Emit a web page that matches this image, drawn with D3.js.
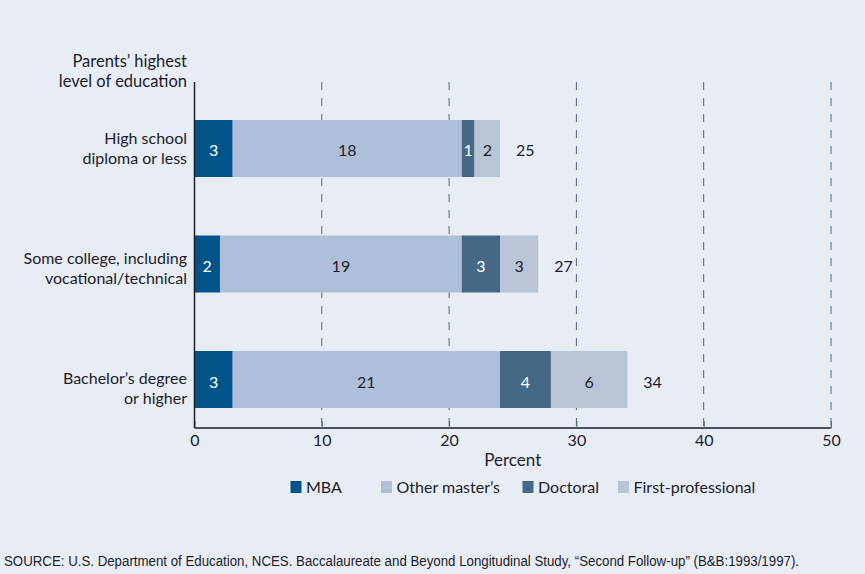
<!DOCTYPE html>
<html>
<head>
<meta charset="utf-8">
<script src="https://cdn.jsdelivr.net/npm/d3@7"></script>
<style>
  body { margin: 0; background: #e8ecf4; }
  svg { display: block; font-family: Lato, "Open Sans", sans-serif; }
</style>
</head>
<body>
<div id="chart"></div>
<script>
// kategorie (wiersze wykresu)
var categories = [
	["High school", "diploma or less"],
	["Some college, including", "vocational/technical"],
	["Bachelor\u2019s degree", "or higher"]
];
// serie
var seriesNames = ["MBA", "Other master\u2019s", "Doctoral", "First-professional"];
var mba = [3, 2, 3];
var otherMasters = [18, 19, 21];
var doctoral = [1, 3, 4];
var firstProf = [2, 3, 6];
var totals = [25, 27, 34];
var xTicks = [0, 10, 20, 30, 40, 50];

var colors = ["#00548a", "#aebfd9", "#456886", "#b9c5d6"];
var textColors = ["#ffffff", "#1d1d2b", "#ffffff", "#1d1d2b"];

var width = 865, height = 574;
var svg = d3.select("#chart").append("svg")
	.attr("width", width)
	.attr("height", height);

svg.append("rect").attr("width", width).attr("height", height).attr("fill", "#e8ecf4");

var xScale = d3.scaleLinear().domain([0, 50]).range([194.5, 831]);
var yScale = d3.scaleBand().domain(d3.range(categories.length))
	.range([120, 408]).paddingInner(0.5065).paddingOuter(0);
// pozycje etykiet kategorii (pierwsza linia)
var labelScale = d3.scalePoint().domain(d3.range(categories.length)).range([143.5, 383.5]);

// linie siatki (przerywane)
svg.selectAll(".grid")
	.data(xTicks.slice(1))
	.enter()
	.append("line")
	.attr("x1", function (d) { return xScale(d); })
	.attr("x2", function (d) { return xScale(d); })
	.attr("y1", 82)
	.attr("y2", 428)
	.style("stroke", "#4a6b8a")
	.style("stroke-width", 1)
	.style("stroke-dasharray", "8,8");

// słupki skumulowane
var series = [mba, otherMasters, doctoral, firstProf];
var rows = categories.map(function (c, i) {
	var x0 = 0;
	return series.map(function (s, k) {
		var seg = { row: i, k: k, v: s[i], x0: x0, x1: x0 + s[i] };
		x0 += s[i];
		return seg;
	});
});
var segs = [].concat.apply([], rows);

svg.selectAll(".seg")
	.data(segs)
	.enter()
	.append("rect")
	.attr("x", function (d) { return xScale(d.x0); })
	.attr("width", function (d) { return xScale(d.x1) - xScale(d.x0); })
	.attr("y", function (d) { return yScale(d.row); })
	.attr("height", yScale.bandwidth())
	.style("fill", function (d) { return colors[d.k]; });

svg.selectAll(".seglabel")
	.data(segs)
	.enter()
	.append("text")
	.attr("x", function (d) { return (xScale(d.x0) + xScale(d.x1)) / 2; })
	.attr("y", function (d) { return yScale(d.row) + yScale.bandwidth() / 2 + 8; })
	.attr("text-anchor", "middle")
	.style("font-size", "16px")
	.style("fill", function (d) { return textColors[d.k]; })
	.text(function (d) { return d.v; });

// sumy
svg.selectAll(".total")
	.data(totals)
	.enter()
	.append("text")
	.attr("x", function (d, i) { return xScale(rows[i][3].x1) + 16; })
	.attr("y", function (d, i) { return yScale(i) + yScale.bandwidth() / 2 + 8; })
	.style("font-size", "16px")
	.style("fill", "#1d1d2b")
	.text(function (d) { return d; });

// etykiety kategorii
categories.forEach(function (c, i) {
	var t = svg.append("text")
		.attr("text-anchor", "end")
		.style("font-size", "16px")
		.style("fill", "#1d1d2b");
	c.forEach(function (line, j) {
		t.append("tspan")
			.attr("x", 187)
			.attr("y", labelScale(i) + j * 20)
			.text(line);
	});
});

var title = svg.append("text")
	.attr("text-anchor", "end")
	.style("font-size", "16.5px")
	.style("fill", "#1d1d2b");
title.append("tspan").attr("x", 187).attr("y", 66.5).text("Parents\u2019 highest");
title.append("tspan").attr("x", 187).attr("y", 86.5).text("level of education");

// oś X
var xAxis = d3.axisBottom(xScale).tickValues(xTicks).tickSize(-7).tickPadding(7);
var ax = svg.append("g").attr("transform", "translate(0,428)").call(xAxis);
ax.select(".domain").attr("d", "M194.5,0H831").style("stroke", "#1d1d2b").style("stroke-width", 1.5);
ax.selectAll(".tick line").style("stroke", "#4a6b8a");
ax.selectAll(".tick text").style("font-size", "16px").style("fill", "#1d1d2b").style("font-family", "Lato, sans-serif");

// oś Y
svg.append("line")
	.attr("x1", 194.5).attr("x2", 194.5)
	.attr("y1", 82).attr("y2", 428)
	.style("stroke", "#1d1d2b")
	.style("stroke-width", 1.5);

svg.append("text")
	.attr("x", xScale(25))
	.attr("y", 466)
	.attr("text-anchor", "middle")
	.style("font-size", "17px")
	.style("fill", "#1d1d2b")
	.text("Percent");

// legenda
var legendX = [290.5, 381, 522.5, 618];
var legend = svg.selectAll(".legend")
	.data(seriesNames)
	.enter()
	.append("g")
	.attr("transform", function (d, i) { return "translate(" + legendX[i] + ",481)"; });
legend.append("rect").attr("width", 11).attr("height", 12)
	.style("fill", function (d, i) { return colors[i]; });
legend.append("text").attr("x", 15.5).attr("y", 12)
	.style("font-size", "16px")
	.style("fill", "#1d1d2b")
	.text(function (d) { return d; });

// źródło
svg.append("text")
	.attr("x", 4)
	.attr("y", 566)
	.attr("textLength", 795)
	.attr("lengthAdjust", "spacingAndGlyphs")
	.style("font-family", "'Liberation Sans Narrow', 'Liberation Sans', sans-serif")
	.style("font-size", "14px")
	.style("fill", "#1d1d2b")
	.text("SOURCE: U.S. Department of Education, NCES. Baccalaureate and Beyond Longitudinal Study, \u201cSecond Follow-up\u201d (B&B:1993/1997).");
</script>
</body>
</html>
